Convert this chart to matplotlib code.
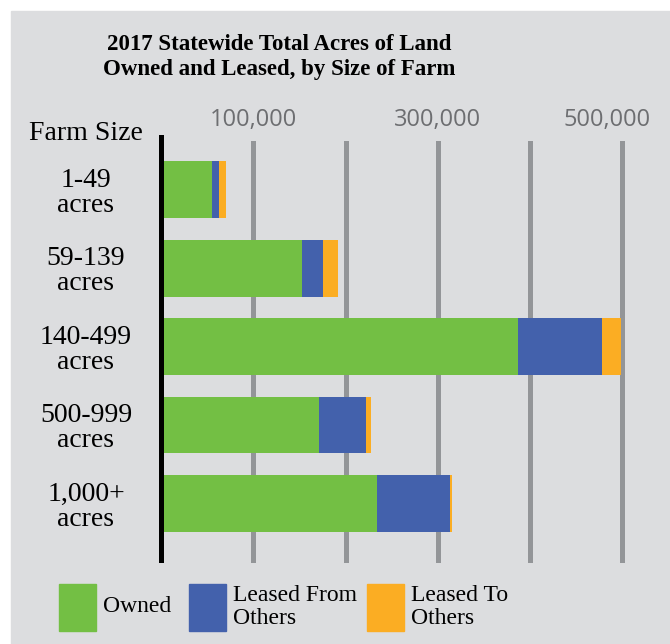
import matplotlib.pyplot as plt
from matplotlib.patches import Rectangle
from matplotlib.transforms import ScaledTranslation

# data (acres)
sizes = ['1-49\nacres', '59-139\nacres', '140-499\nacres', '500-999\nacres', '1,000+\nacres']
owned = [55000, 153000, 387000, 171000, 234000]
leased_from = [7500, 23000, 91000, 51000, 79000]
leased_to = [7500, 16000, 21000, 5500, 2000]
series_names = ['Owned', 'Leased From\nOthers', 'Leased To\nOthers']
colors = ['#73bf44', '#4361ac', '#fbad23']
ticks = [100000, 200000, 300000, 400000, 500000]
tick_labels = ['100,000', '', '300,000', '', '500,000']

W, H = 670, 644
bg = '#dcdddf'
serif = 'Liberation Serif'

fig = plt.figure(figsize=(W / 100, H / 100), dpi=100)
fig.patches.append(Rectangle((11 / W, 0), 1, 1 - 11 / H, transform=fig.transFigure,
                             color=bg, zorder=-1))

ax = fig.add_axes([161 / W, 1 - 563 / H, 499 / W, 422 / H])
ax.set_facecolor('none')

# stacked horizontal bars
lefts = [0] * len(sizes)
for vals, color in zip([owned, leased_from, leased_to], colors):
    ax.barh(range(len(sizes)), vals, left=lefts, height=0.726, color=color, zorder=2)
    lefts = [a + b for a, b in zip(lefts, vals)]

ax.set_xlim(0, 499 / 92.25 * 100000)
ax.set_ylim(4.758, -0.618)

# grid + top tick labels
ax.set_xticks(ticks)
ax.set_xticklabels(tick_labels)
ax.xaxis.tick_top()
ax.grid(axis='x', color='#939598', lw=3.6)
ax.set_axisbelow(True)
ax.tick_params(axis='x', length=0, pad=6.5, labelsize=17, labelcolor='#6d6e71')
for lbl in ax.get_xticklabels():
    lbl.set_fontfamily('Open Sans')
# last label sits a little left of its gridline in the original
last = ax.get_xticklabels()[-1]
last.set_transform(last.get_transform() + ScaledTranslation(-0.15, 0, fig.dpi_scale_trans))

# category labels on the left
ax.set_yticks(range(len(sizes)))
ax.set_yticklabels(sizes)
ax.tick_params(axis='y', length=0, pad=54)
for lbl in ax.get_yticklabels():
    lbl.set_fontfamily(serif)
    lbl.set_fontsize(20)
    lbl.set_ha('center')
    lbl.set_multialignment('center')
    lbl.set_linespacing(1.02)

for s in ax.spines.values():
    s.set_visible(False)
ax.axvline(0, ymin=0.007, ymax=1.0095, color='black', lw=3.6, clip_on=False, zorder=5)

fig.text(86 / W, 1 - 133 / H, 'Farm Size', family=serif, fontsize=20,
         ha='center', va='center')

# title
fig.text(279 / W, 1 - 57 / H, '2017 Statewide Total Acres of Land\nOwned and Leased, by Size of Farm',
         family=serif, fontweight='bold', fontsize=16.5, ha='center', va='center',
         linespacing=1.3)

# legend drawn by hand to match the layout
sq_x = [59, 189, 367]
for x, name, color in zip(sq_x, series_names, colors):
    fig.patches.append(Rectangle((x / W, 1 - 631 / H), 37 / W, 47 / H,
                                 transform=fig.transFigure, color=color, zorder=3))
    fig.text((x + 44) / W, 1 - 607 / H, name, family=serif, fontsize=17,
             ha='left', va='center', linespacing=1.12)

fig.savefig('out.png', dpi=100, facecolor='white')
